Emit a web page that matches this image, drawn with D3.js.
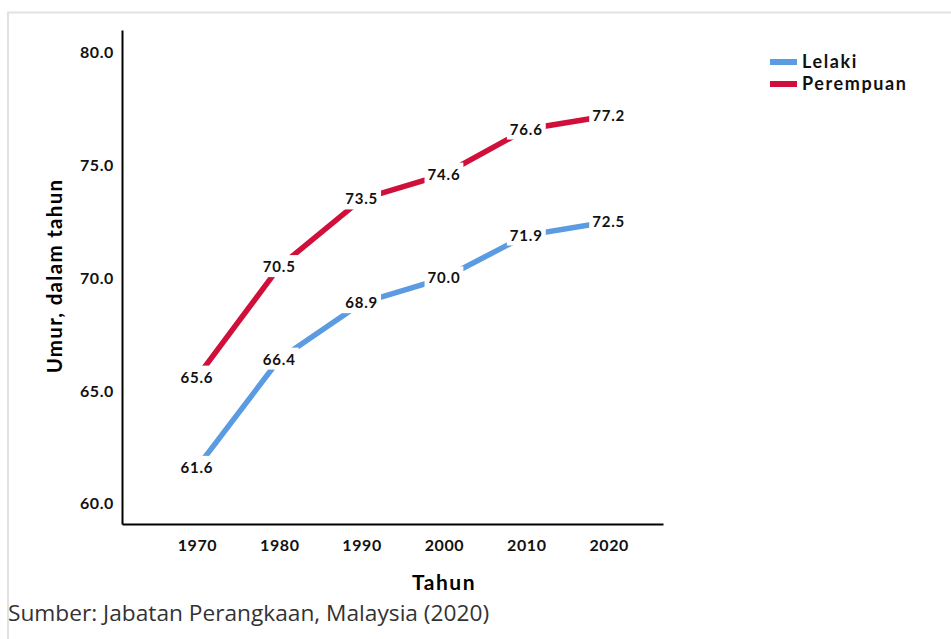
<!DOCTYPE html>
<html>
<head>
<meta charset="utf-8">
<script src="https://cdn.jsdelivr.net/npm/d3@7"></script>
<style>
  body { margin: 0; background: #fff; }
  svg { display: block; }
  .tick text { font-family: Lato, "DejaVu Sans", sans-serif; font-weight: bold; font-size: 16px; letter-spacing: 0.6px; fill: #111; }
  .lbl { font-family: Lato, "DejaVu Sans", sans-serif; font-weight: bold; font-size: 15px; letter-spacing: 0.8px; fill: #111; }
</style>
</head>
<body>
<div id="chart"></div>
<script>
var years = [1970, 1980, 1990, 2000, 2010, 2020];
var lelaki = [61.6, 66.4, 68.9, 70.0, 71.9, 72.5];
var perempuan = [65.6, 70.5, 73.5, 74.6, 76.6, 77.2];
var yTicks = [60, 65, 70, 75, 80];
var seriesNames = ["Lelaki", "Perempuan"];
var seriesColors = ["#5a9be2", "#d0103a"];

var W = 951, H = 639;
var svg = d3.select("#chart").append("svg").attr("width", W).attr("height", H);

// light frame
svg.append("path")
  .attr("d", "M8,639 V12.5 H951")
  .attr("fill", "none")
  .attr("stroke", "#e2e2e2")
  .attr("stroke-width", 2);

var x = d3.scaleLinear().domain([1960.9, 2026.6]).range([122, 663]);
var y = d3.scaleLinear().domain([59.1, 81.0]).range([524, 30]);

// axes
svg.append("g")
  .attr("transform", "translate(0,524)")
  .call(d3.axisBottom(x).tickValues(years).tickFormat(d3.format("d")).tickSize(0).tickPadding(16))
  .call(function (g) { g.select(".domain").attr("stroke", "#000").attr("stroke-width", 2); });

svg.append("g")
  .attr("transform", "translate(122,0)")
  .call(d3.axisLeft(y).tickValues(yTicks).tickFormat(d3.format(".1f")).tickSize(0).tickPadding(8))
  .call(function (g) { g.select(".domain").attr("stroke", "#000").attr("stroke-width", 2); });

// axis titles
svg.append("text")
  .attr("x", 444).attr("y", 590)
  .attr("text-anchor", "middle")
  .style("font-family", "Lato, 'DejaVu Sans', sans-serif")
  .style("font-weight", "bold").style("font-size", "21px")
  .style("letter-spacing", "1.5px")
  .text("Tahun");

svg.append("text")
  .attr("transform", "translate(62,276) rotate(-90)")
  .attr("text-anchor", "middle")
  .style("font-family", "Lato, 'DejaVu Sans', sans-serif")
  .style("font-weight", "bold").style("font-size", "20.5px")
  .style("letter-spacing", "1.3px")
  .text("Umur, dalam tahun");

// source
svg.append("text")
  .attr("x", 8).attr("y", 621)
  .style("font-family", "'Open Sans', 'Noto Sans', sans-serif")
  .style("font-size", "22.7px")
  .attr("fill", "#333")
  .text("Sumber: Jabatan Perangkaan, Malaysia (2020)");

// lines
var series = [lelaki, perempuan];
var line = d3.line()
  .x(function (d, i) { return x(years[i]); })
  .y(function (d) { return y(d); });

series.forEach(function (s, k) {
  svg.append("path")
    .datum(s)
    .attr("d", line)
    .attr("fill", "none")
    .attr("stroke", seriesColors[k])
    .attr("stroke-width", 5.5);
});

// value labels with white background
series.forEach(function (s, k) {
  var g = svg.append("g");
  s.forEach(function (v, i) {
    var t = g.append("text")
      .attr("class", "lbl")
      .attr("x", x(years[i])).attr("y", y(v))
      .attr("dy", "0.35em")
      .attr("text-anchor", "middle")
      .text(d3.format(".1f")(v));
    var b = t.node().getBBox();
    g.insert("rect", function () { return t.node(); })
      .attr("x", b.x - 3).attr("y", b.y - 2)
      .attr("width", b.width + 6).attr("height", b.height + 4)
      .attr("fill", "#fff");
  });
});

// legend
var legend = svg.append("g").attr("transform", "translate(770,62)");
seriesNames.forEach(function (n, k) {
  var row = legend.append("g").attr("transform", "translate(0," + k * 22 + ")");
  row.append("rect").attr("x", 0).attr("y", -3).attr("width", 27).attr("height", 6)
    .attr("fill", seriesColors[k]);
  row.append("text").attr("x", 32).attr("y", 0).attr("dy", "0.35em")
    .style("font-family", "Lato, 'DejaVu Sans', sans-serif")
    .style("font-weight", "bold").style("font-size", "18px")
    .style("letter-spacing", "1.6px")
    .attr("fill", "#111")
    .text(n);
});
</script>
</body>
</html>
